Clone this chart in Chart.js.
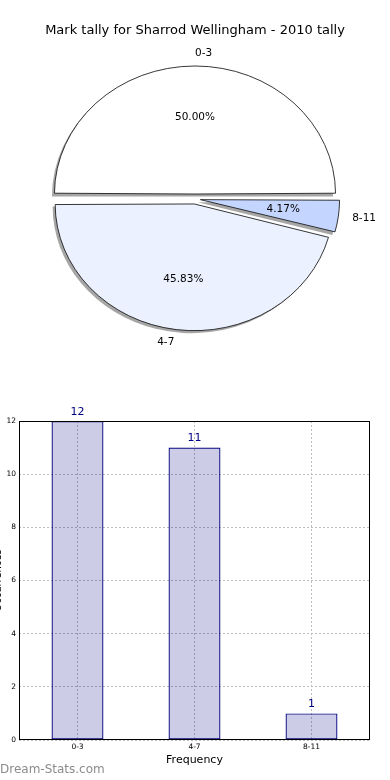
<!DOCTYPE html>
<html>
<head>
<meta charset="utf-8">
<script src="https://cdn.jsdelivr.net/npm/chart.js@4.4.0/dist/chart.umd.min.js"></script>
<style>
body { margin: 0; background: #fff; width: 390px; height: 780px; overflow: hidden; position: relative; font-family: 'DejaVu Sans', sans-serif; }
#pieWrap { position: absolute; left: 0; top: 0; width: 390px; height: 398px; }
#barWrap { position: absolute; left: -8px; top: 400px; width: 398px; height: 380px; }
#title { position: absolute; top: 22px; left: 0; width: 390px; text-align: center; font-size: 13px; color: #000; }
#mark { position: absolute; left: 0; top: 762px; font-size: 12px; color: #8c8c8c; }
</style>
</head>
<body>
<div id="pieWrap"><canvas id="pie"></canvas></div>
<div id="barWrap"><canvas id="bar"></canvas></div>
<div id="title">Mark tally for Sharrod Wellingham - 2010 tally</div>
<div id="mark">Dream-Stats.com</div>
<script>
// data
const categories = ['0-3', '4-7', '8-11'];
const tally = [12, 11, 1];
const sliceColors = ['#ffffff', '#ebf1ff', '#c4d6ff'];
const yTicks = [0, 2, 4, 6, 8, 10, 12];

const EXPLODE = 5;      // px each wedge is pushed out
const STRETCH = 1.098;  // pie is a bit wider than tall in the original
const total = tally.reduce((a, b) => a + b, 0);

Chart.defaults.font.family = "'DejaVu Sans', sans-serif";
Chart.defaults.color = '#000';

// pie runs clockwise from the right in chart.js, so reverse the order
const pieLabels = categories.slice().reverse();
const pieData = tally.slice().reverse();
const pieColors = sliceColors.slice().reverse();

// how the arc element moves and grows for its offset
function arcGeom(arc) {
    const circ = arc.endAngle - arc.startAngle;
    const o = arc.options.offset / 4;
    const fix = 1 - Math.sin(Math.min(Math.PI, circ));
    return { t: o, r: arc.outerRadius + o * fix, mid: (arc.startAngle + arc.endAngle) / 2 };
}

const piePlugin = {
    id: 'piePlugin',
    beforeDatasetsDraw(chart) {
        const ctx = chart.ctx;
        const arcs = chart.getDatasetMeta(0).data;
        const cx = arcs[0].x, cy = arcs[0].y;
        ctx.save();
        ctx.translate(cx, cy);
        ctx.scale(STRETCH, 1);
        ctx.translate(-cx, -cy);
        // shadows under the wedges
        arcs.forEach(arc => {
            const g = arcGeom(arc);
            const x = cx + Math.cos(g.mid) * g.t - 2.3;
            const y = cy + Math.sin(g.mid) * g.t + 2.5;
            ctx.beginPath();
            ctx.moveTo(x, y);
            ctx.arc(x, y, g.r, arc.startAngle, arc.endAngle);
            ctx.closePath();
            ctx.fillStyle = 'rgba(77,77,77,0.5)';
            ctx.fill();
        });
    },
    afterDatasetsDraw(chart) {
        const ctx = chart.ctx;
        ctx.restore();
        const arcs = chart.getDatasetMeta(0).data;
        const cx = arcs[0].x, cy = arcs[0].y;
        ctx.save();
        ctx.font = "10.5px 'DejaVu Sans'";
        ctx.fillStyle = '#000';
        ctx.textBaseline = 'middle';
        arcs.forEach((arc, i) => {
            const g = arcGeom(arc);
            const c = Math.cos(g.mid), s = Math.sin(g.mid);
            const ex = cx + c * g.t * STRETCH;
            const ey = cy + s * g.t;
            ctx.textAlign = c > -1e-6 ? 'left' : 'right';
            ctx.fillText(pieLabels[i], ex + c * g.r * 1.1 * STRETCH, ey + s * g.r * 1.1);
            ctx.textAlign = 'center';
            ctx.fillText((pieData[i] / total * 100).toFixed(2) + '%', ex + c * g.r * 0.6 * STRETCH, ey + s * g.r * 0.6);
        });
        ctx.restore();
    }
};

new Chart(document.getElementById('pie'), {
    type: 'pie',
    data: {
        labels: pieLabels,
        datasets: [{
            data: pieData,
            backgroundColor: pieColors,
            borderColor: '#111',
            borderWidth: 0.8,
            rotation: 90,
            radius: 128 - EXPLODE,
            offset: EXPLODE * 4
        }]
    },
    options: {
        responsive: true,
        maintainAspectRatio: false,
        animation: false,
        events: [],
        plugins: { legend: { display: false }, tooltip: { enabled: false } }
    },
    plugins: [piePlugin]
});

const barPlugin = {
    id: 'barPlugin',
    afterDraw(chart) {
        const { ctx, chartArea: a } = chart;
        ctx.save();
        ctx.strokeStyle = '#000';
        ctx.lineWidth = 1;
        const l = Math.round(a.left) + 0.5, t = Math.round(a.top) + 0.5;
        ctx.strokeRect(l, t, Math.round(a.right) - Math.round(a.left) - 1, Math.round(a.bottom) - Math.round(a.top) - 1);
        // value above each bar
        ctx.font = "11px 'DejaVu Sans'";
        ctx.fillStyle = '#000080';
        ctx.textAlign = 'center';
        ctx.textBaseline = 'middle';
        chart.getDatasetMeta(0).data.forEach((bar, i) => {
            ctx.fillText(tally[i], bar.x, bar.y - 9);
        });
        ctx.restore();
    }
};

const gridStyle = { color: '#bdbdbd', lineWidth: 1, drawTicks: false };

new Chart(document.getElementById('bar'), {
    type: 'bar',
    data: {
        labels: categories,
        datasets: [{
            data: tally,
            backgroundColor: 'rgba(0,0,128,0.2)',
            borderColor: '#000080',
            borderWidth: 1.2,
            borderSkipped: false,
            categoryPercentage: 1,
            barPercentage: 0.444
        }]
    },
    options: {
        responsive: true,
        maintainAspectRatio: false,
        animation: false,
        events: [],
        layout: { padding: { top: 21, right: 20, left: 0, bottom: 0 } },
        plugins: { legend: { display: false }, tooltip: { enabled: false } },
        scales: {
            x: {
                grid: Object.assign({ offset: false }, gridStyle),
                border: { display: false, dash: [2, 2] },
                ticks: { font: { size: 7.5 }, padding: 3 },
                title: { display: true, text: 'Frequency', font: { size: 11 }, padding: { top: 0, bottom: 13.4 } },
                afterFit: s => { s.height = 40; }
            },
            y: {
                min: yTicks[0],
                max: yTicks[yTicks.length - 1],
                grid: gridStyle,
                border: { display: false, dash: [2, 2] },
                ticks: { stepSize: yTicks[1] - yTicks[0], font: { size: 7.5 }, padding: 3 },
                title: { display: true, text: 'Occurrences', font: { size: 10 }, padding: 0 },
                afterFit: s => { s.width = 27; }
            }
        }
    },
    plugins: [barPlugin]
});
</script>
</body>
</html>
